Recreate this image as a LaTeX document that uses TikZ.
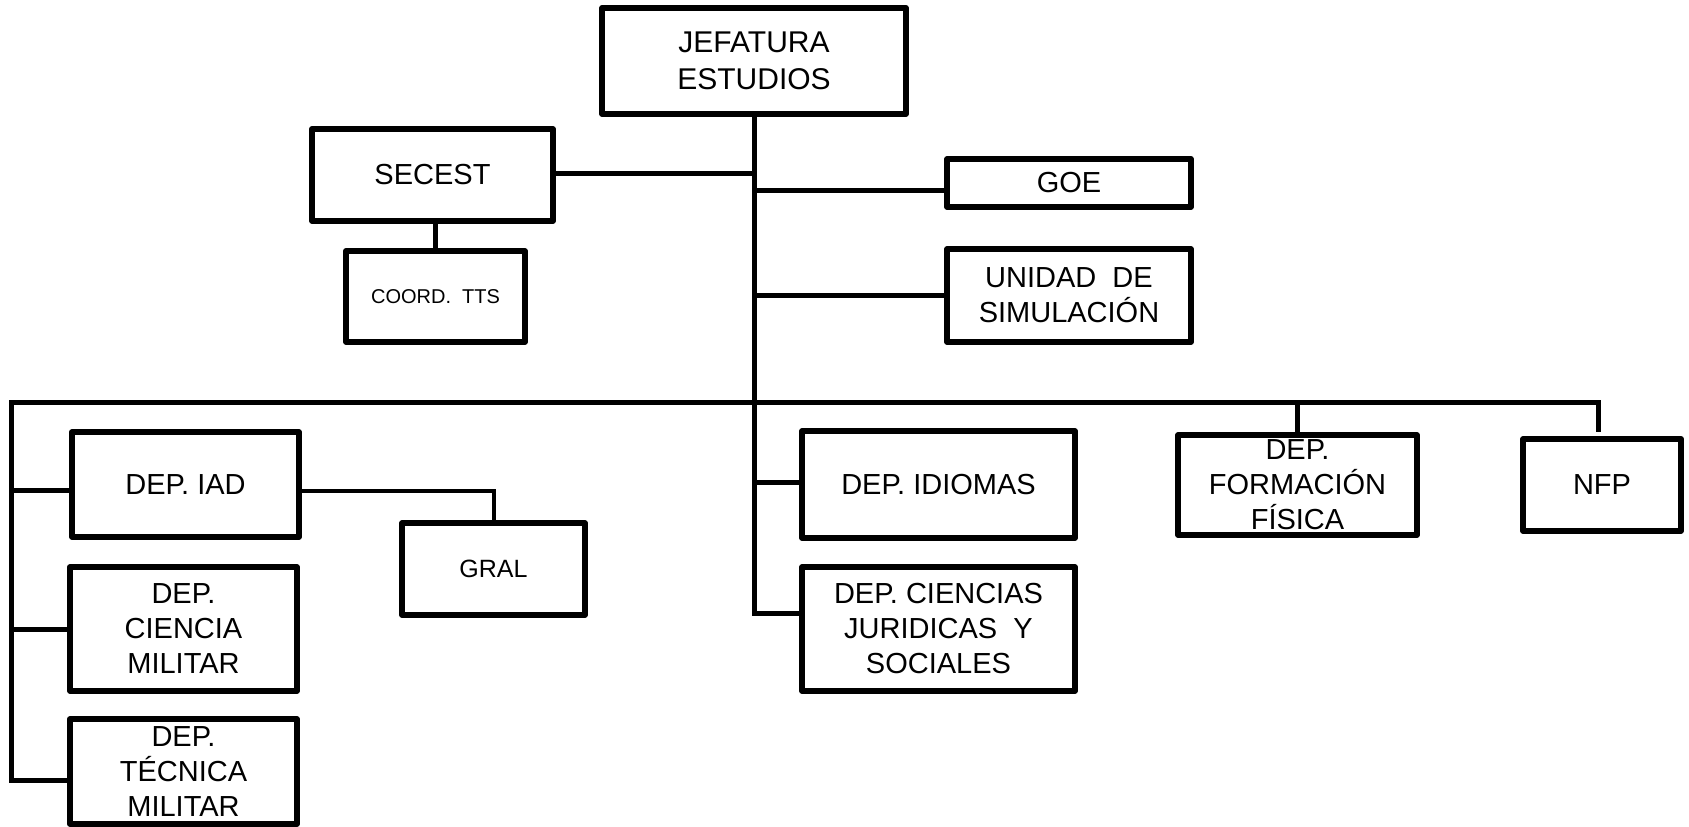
\documentclass[tikz,border=0pt]{standalone}
\usepackage{fontspec}
\setmainfont{Liberation Sans}
\begin{document}
\begin{tikzpicture}[x=1pt,y=-1pt,
  box/.style={draw, line width=5.8pt, line join=round, inner sep=0pt, align=center, font=\fontsize{29}{35}\selectfont},
  link/.style={line width=5pt},
  thinlink/.style={line width=4pt},
]
\useasboundingbox (0,0) rectangle (1689,827);
% boxes
\node[box, minimum width=304pt, minimum height=106pt, font=\fontsize{30}{37}\selectfont] (jef) at (754,61) {JEFATURA\\ESTUDIOS};
\node[box, minimum width=241pt, minimum height=92pt] (secest) at (432.5,175) {SECEST};
\node[box, minimum width=179pt, minimum height=91pt, font=\fontsize{20}{24}\selectfont] (coord) at (435.5,296.5) {COORD.~~TTS};
\node[box, minimum width=244pt, minimum height=48pt] (goe) at (1069,183) {GOE};
\node[box, minimum width=244pt, minimum height=93pt] (unidad) at (1069,295.5) {UNIDAD~~DE\\SIMULACIÓN};
\node[box, minimum width=227pt, minimum height=105pt] (iad) at (185.5,484.5) {DEP. IAD};
\node[box, minimum width=227pt, minimum height=124pt] (ciencia) at (183.5,629) {DEP.\\CIENCIA\\MILITAR};
\node[box, minimum width=227pt, minimum height=105pt] (tecnica) at (183.5,771.5) {DEP.\\TÉCNICA\\MILITAR};
\node[box, minimum width=183pt, minimum height=92pt, font=\fontsize{25}{30}\selectfont] (gral) at (493.5,569) {GRAL};
\node[box, minimum width=273pt, minimum height=107pt] (idiomas) at (938.5,484.5) {DEP. IDIOMAS};
\node[box, minimum width=273pt, minimum height=124pt] (juridicas) at (938.5,629) {DEP. CIENCIAS\\JURIDICAS~~Y\\SOCIALES};
\node[box, minimum width=239pt, minimum height=100pt] (formacion) at (1297.5,485) {DEP.\\FORMACIÓN\\FÍSICA};
\node[box, minimum width=158pt, minimum height=92pt] (nfp) at (1602,485) {NFP};
% coordinates
\coordinate (tb) at (754,613);
\coordinate (bl) at (11,402);
\coordinate (br) at (1598,402);
\coordinate (nfpend) at (1598,432);
\coordinate (s1) at ([yshift=-5.5pt]iad.west);
\coordinate (s3) at ([yshift=-8.5pt]tecnica.west);
\coordinate (s4) at ([yshift=2.5pt]idiomas.west);
\coordinate (s5) at ([yshift=2pt]secest.east);
\coordinate (s7) at ([yshift=-7pt]goe.west);
\coordinate (s6) at ([yshift=-6.5pt]iad.east);
% trunk and upper branches
\draw[link] (jef.south) |- (juridicas.west |- tb);
\draw[link] (s5) -- (s5 -| jef.south);
\draw[link] (coord.north) -- (coord.north |- secest.south);
\draw[link] (s7) -- (s7 -| jef.south);
\draw[link] (unidad.west) -- (unidad.west -| jef.south);
% main bus
\draw[link] (s3) -| (bl) -- (br) -- (nfpend);
\draw[link] (s1) -- (s1 -| bl);
\draw[link] (ciencia.west) -- (ciencia.west -| bl);
\draw[link] (formacion.north) -- (formacion.north |- br);
\draw[link] (s4) -- (s4 -| jef.south);
\draw[thinlink] (s6) -| (gral.north);
\end{tikzpicture}
\end{document}
